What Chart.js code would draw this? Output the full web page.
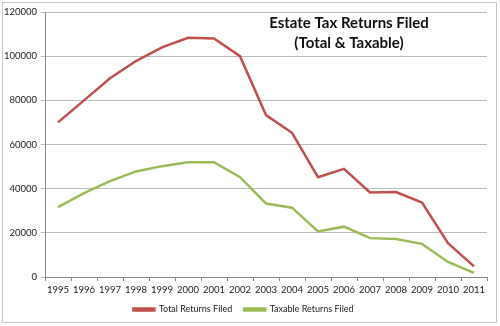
<!DOCTYPE html>
<html>
<head>
<meta charset="utf-8">
<script src="https://cdn.jsdelivr.net/npm/chart.js@4.4.0/dist/chart.umd.min.js"></script>
<style>
  body { margin: 0; background: #fff; }
  #wrap { width: 500px; height: 326px; }
</style>
</head>
<body>
<div id="wrap"><canvas id="myChart" width="500" height="326"></canvas></div>
<script>
var years = ['1995','1996','1997','1998','1999','2000','2001','2002','2003','2004','2005','2006','2007','2008','2009','2010','2011'];
var totalReturns = [70000, 80000, 90000, 97800, 104000, 108300, 108000, 100000, 73300, 65300, 45200, 49000, 38300, 38500, 33700, 15300, 4800];
var taxableReturns = [31600, 38000, 43400, 47800, 50200, 52000, 52000, 45200, 33300, 31400, 20600, 22800, 17600, 17200, 15000, 6800, 1900];
var chartTitle = ['Estate Tax Returns Filed', '(Total & Taxable)'];

var ctx = document.getElementById('myChart').getContext('2d');

// white background, thin frame and the title that sits inside the plot
var frame = {
    id: 'frame',
    beforeDraw: function (chart) {
        var c = chart.ctx;
        c.save();
        c.fillStyle = '#fff';
        c.fillRect(0, 0, chart.width, chart.height);
        c.strokeStyle = '#c6c6c6';
        c.lineWidth = 1;
        c.strokeRect(2.5, 2.5, 494, 320);
        c.restore();
    },
    afterDraw: function (chart) {
        var c = chart.ctx;
        c.save();
        c.fillStyle = '#111';
        c.font = 'bold 15px Lato';
        c.textAlign = 'center';
        c.textBaseline = 'middle';
        c.fillText(chartTitle[0], 349, 23);
        c.fillText(chartTitle[1], 349, 43);
        c.restore();
    }
};

var myChart = new Chart(ctx, {
    type: 'line',
    data: {
        labels: years,
        datasets: [{
            label: 'Total Returns Filed',
            data: totalReturns,
            borderColor: '#c0504d',
            backgroundColor: '#c0504d',
            borderWidth: 2.5,
            pointRadius: 0,
            tension: 0
        }, {
            label: 'Taxable Returns Filed',
            data: taxableReturns,
            borderColor: '#9bbb59',
            backgroundColor: '#9bbb59',
            borderWidth: 2.5,
            pointRadius: 0,
            tension: 0
        }]
    },
    options: {
        responsive: false,
        animation: false,
        layout: { padding: { left: 0, right: 13, top: 12, bottom: 2 } },
        plugins: {
            legend: {
                position: 'bottom',
                labels: {
                    boxWidth: 21,
                    boxHeight: 2,
                    padding: 12,
                    color: '#222',
                    font: { family: 'Lato', size: 9 }
                }
            },
            tooltip: { enabled: false }
        },
        scales: {
            x: {
                offset: true,
                grid: { offset: true, drawOnChartArea: false, tickLength: 4, color: '#888' },
                border: { color: '#888' },
                ticks: { color: '#222', font: { family: 'Lato', size: 9.5 }, maxRotation: 0, autoSkip: false, padding: 3 },
                afterFit: function (s) { s.height = 16; }
            },
            y: {
                min: 0,
                max: 120000,
                grid: { color: '#bcbcbc', tickLength: 4 },
                border: { color: '#888' },
                ticks: {
                    stepSize: 20000,
                    color: '#222',
                    font: { family: 'Lato', size: 9.5 },
                    padding: 4,
                    callback: function (v) { return String(v); }
                },
                afterFit: function (s) { s.width = 45; }
            }
        }
    },
    plugins: [frame]
});
</script>
</body>
</html>
